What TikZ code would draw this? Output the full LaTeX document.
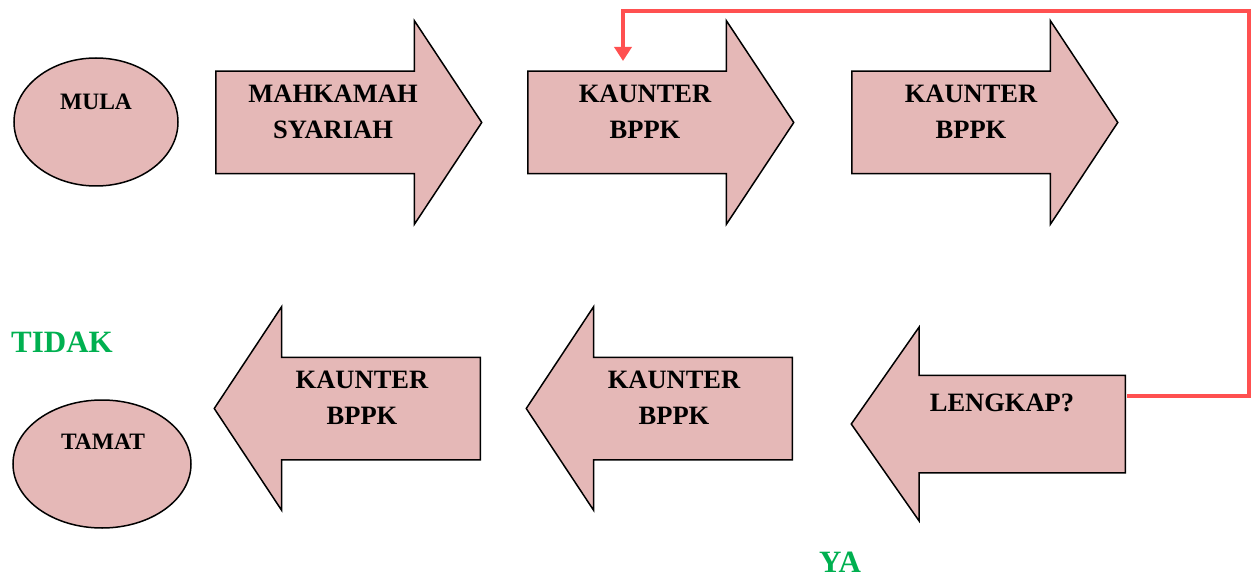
\documentclass[tikz,border=0pt]{standalone}
\usepackage{fontspec}
\setmainfont{Liberation Serif}
\usepackage{xcolor}
\usepackage{tikz}
\usetikzlibrary{arrows.meta, shapes}
\usetikzlibrary{calc}
\usetikzlibrary{positioning}

\definecolor{blockpink}{HTML}{E5B8B7}
\definecolor{loopred}{HTML}{FF5050}
\definecolor{answergreen}{HTML}{00B050}

\tikzset{
  blockarrow/.style={single arrow, draw=black, line width=1.5pt, fill=blockpink,
    inner xsep=0pt, inner ysep=50.5pt, minimum height=266pt, minimum width=202pt,
    single arrow head extend=50.5pt, single arrow tip angle=113, anchor=tail},
  backarrow/.style={blockarrow, shape border rotate=180},
  terminal/.style={ellipse, draw=black, line width=1.5pt, fill=blockpink, inner sep=0pt},
  blocktext/.style={font=\fontsize{26.5}{36}\selectfont\bfseries, align=center},
  termtext/.style={font=\fontsize{23.5}{28}\selectfont\bfseries},
  answer/.style={font=\fontsize{31}{36}\selectfont\bfseries, text=answergreen},
  loopline/.style={draw=loopred, line width=4pt, -{Triangle[width=17pt,length=14pt]}}
}

\begin{document}
\begin{tikzpicture}[x=1pt, y=-1pt]
      \useasboundingbox (0,0) rectangle (1257,577);

      % top row
      \node[terminal, minimum width=164pt, minimum height=128pt] (mula) at (96,122) {};
      \node[termtext] (mulatext) at (96,102) {MULA};

      \node[blockarrow] (mahkamah) at (215,122.5) {};
      \node[blocktext] (mahkamahtext) at (333,112) {MAHKAMAH\\SYARIAH};

      \node[blockarrow] (kaunterA) at (527,122.5) {};
      \node[blocktext] (kaunterAtext) at (645,112) {KAUNTER\\BPPK};

      \node[blockarrow] (kaunterB) at (851,122.5) {};
      \node[blocktext] (kaunterBtext) at (971,112) {KAUNTER\\BPPK};

      % bottom row
      \node[backarrow, inner ysep=48pt, minimum height=274pt, minimum width=192pt,
        single arrow head extend=48pt, single arrow tip angle=110] (lengkap) at (1126,424) {};
      \node[blocktext] (lengkaptext) at (1002,403) {LENGKAP?};

      \node[backarrow] (kaunterD) at (793,408.5) {};
      \node[blocktext] (kaunterDtext) at (674,397.5) {KAUNTER\\BPPK};

      \node[backarrow] (kaunterC) at (481,408.5) {};
      \node[blocktext] (kaunterCtext) at (362,397.5) {KAUNTER\\BPPK};

      \node[terminal, minimum width=178pt, minimum height=128pt] (tamat) at (102,464) {};
      \node[termtext] (tamattext) at (103,442) {TAMAT};

      \node[answer] (tidak) at (62,342) {TIDAK};
      \node[answer] (ya) at (840,562) {YA};

      % back to the counter
      \coordinate (loopstart) at (1127,396);
      \coordinate (loopend) at (623,61);
      \draw[loopline] (loopstart) -- (1249,396) -- (1249,11) -- (623,11) -- (loopend);

\end{tikzpicture}
\end{document}
